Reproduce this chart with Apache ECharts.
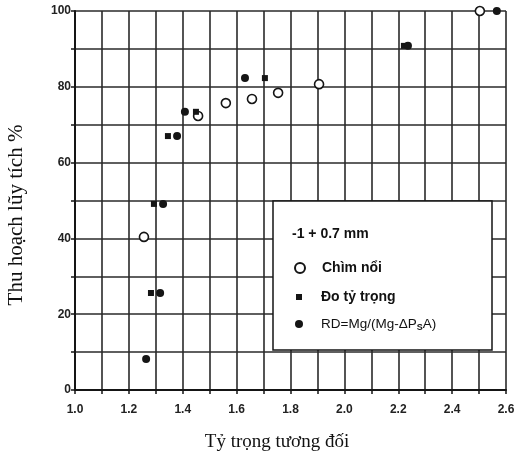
<!DOCTYPE html>
<html>
<head>
<meta charset="utf-8">
<script src="https://cdn.jsdelivr.net/npm/echarts@6/dist/echarts.min.js"></script>
<style>html,body{margin:0;padding:0;background:#fff}#c{width:520px;height:455px}</style>
</head>
<body>
<div id="c"></div>
<script>
// Data (x = relative density, y = cumulative yield %)
var sinkFloatX = [1.256, 1.457, 1.56, 1.657, 1.754, 1.906, 2.503];
var sinkFloatY = [40.4, 72.3, 75.7, 76.8, 78.4, 80.7, 100];
var densX = [1.282, 1.293, 1.345, 1.449, 1.705, 2.221];
var densY = [25.6, 49.1, 67.0, 73.4, 82.3, 90.8];
var rdX = [1.264, 1.316, 1.327, 1.379, 1.408, 1.631, 2.236, 2.566];
var rdY = [8.2, 25.6, 49.1, 67.0, 73.4, 82.3, 90.8, 100];

var seriesNames = ['Chìm nổi', 'Đo tỷ trọng', 'RD'];
var boxTitle = '-1 + 0.7 mm';
var xTitle = 'Tỷ trọng tương đối';
var yTitle = 'Thu hoạch lũy tích %';

function pairs(xs, ys) { return xs.map(function (x, i) { return [x, ys[i]]; }); }

var ink = '#151515';
var tickFont = { fontFamily: 'Liberation Sans, Arial, sans-serif', fontSize: 12, fontWeight: 'bold', color: '#222' };
var legendFont = { fontFamily: 'Liberation Sans, Arial, sans-serif', fontSize: 14, fontWeight: 'bold', color: '#111' };

var chart = echarts.init(document.getElementById('c'), null, { renderer: 'canvas' });
chart.setOption({
  animation: false,
  backgroundColor: '#fff',
  grid: { left: 75, right: 14, top: 11, bottom: 65, containLabel: false },
  xAxis: {
    type: 'value', min: 1.0, max: 2.6, interval: 0.1,
    axisLine: { show: true, onZero: false, lineStyle: { color: ink, width: 2 } },
    axisTick: { show: true, inside: false, length: 4, lineStyle: { color: ink, width: 1.5 } },
    splitLine: { show: true, lineStyle: { color: '#2a2a2a', width: 1.6 } },
    axisLabel: Object.assign({ margin: 14, formatter: function (v) {
      var k = Math.round(v * 10); return k % 2 === 0 ? (k / 10).toFixed(1) : '';
    } }, tickFont)
  },
  yAxis: {
    type: 'value', min: 0, max: 100, interval: 10,
    axisLine: { show: true, onZero: false, lineStyle: { color: ink, width: 2 } },
    axisTick: { show: true, inside: false, length: 4, lineStyle: { color: ink, width: 1.5 } },
    splitLine: { show: true, lineStyle: { color: '#2a2a2a', width: 1.6 } },
    axisLabel: Object.assign({ margin: 4, formatter: function (v) {
      return Math.round(v) % 20 === 0 ? String(Math.round(v)) : '';
    } }, tickFont)
  },
  legend: [
    { data: [{ name: seriesNames[0], icon: 'circle' }], left: 294, top: 261, padding: 0, itemWidth: 10, itemHeight: 10,
      textStyle: Object.assign({ padding: [0, 0, 0, 12] }, legendFont), z: 20, selectedMode: false },
    { data: [{ name: seriesNames[1], icon: 'rect' }], left: 296, top: 290, padding: 0, itemWidth: 6, itemHeight: 6,
      textStyle: Object.assign({ padding: [0, 0, 0, 14] }, legendFont), z: 20, selectedMode: false },
    { data: [{ name: seriesNames[2], icon: 'circle' }], left: 295, top: 317, padding: 0, itemWidth: 8, itemHeight: 8,
      formatter: function () { return '{a|RD=Mg/(Mg-ΔP}{s|S}{a|A)}'; },
      textStyle: { fontFamily: 'Liberation Sans, Arial, sans-serif', fontSize: 13.5, color: '#111', padding: [0, 0, 0, 13],
        rich: { a: { fontFamily: 'Liberation Sans, Arial, sans-serif', fontSize: 13.5, color: '#111' },
                s: { fontFamily: 'Liberation Sans, Arial, sans-serif', fontSize: 9, fontWeight: 'bold', color: '#111', padding: [8, 0, 0, 0] } } },
      z: 20, selectedMode: false }
  ],
  graphic: [
    { type: 'rect', z: 10, shape: { x: 273, y: 201, width: 219, height: 149 },
      style: { fill: '#fff', stroke: ink, lineWidth: 1.5 } },
    { type: 'text', z: 11, x: 292, y: 234,
      style: { text: boxTitle, fill: '#111', font: 'bold 14px "Liberation Sans", Arial, sans-serif', verticalAlign: 'middle' } },
    { type: 'text', z: 11, x: 277, y: 442,
      style: { text: xTitle, fill: '#111', font: '19px "Liberation Serif", "Times New Roman", serif', align: 'center', verticalAlign: 'middle' } },
    { type: 'text', z: 11, x: 16, y: 215, rotation: Math.PI / 2,
      style: { text: yTitle, fill: '#111', font: '21px "Liberation Serif", "Times New Roman", serif', align: 'center', verticalAlign: 'middle' } }
  ],
  series: [
    { name: seriesNames[0], type: 'scatter', clip: false, symbol: 'circle', symbolSize: 9, z: 3,
      itemStyle: { color: '#fff', borderColor: ink, borderWidth: 1.6, opacity: 1 },
      data: pairs(sinkFloatX, sinkFloatY) },
    { name: seriesNames[1], type: 'scatter', clip: false, symbol: 'rect', symbolSize: 6, z: 4,
      itemStyle: { color: ink, opacity: 1 },
      data: pairs(densX, densY) },
    { name: seriesNames[2], type: 'scatter', clip: false, symbol: 'circle', symbolSize: 8, z: 5,
      itemStyle: { color: ink, opacity: 1 },
      data: pairs(rdX, rdY) }
  ]
});
</script>
</body>
</html>
